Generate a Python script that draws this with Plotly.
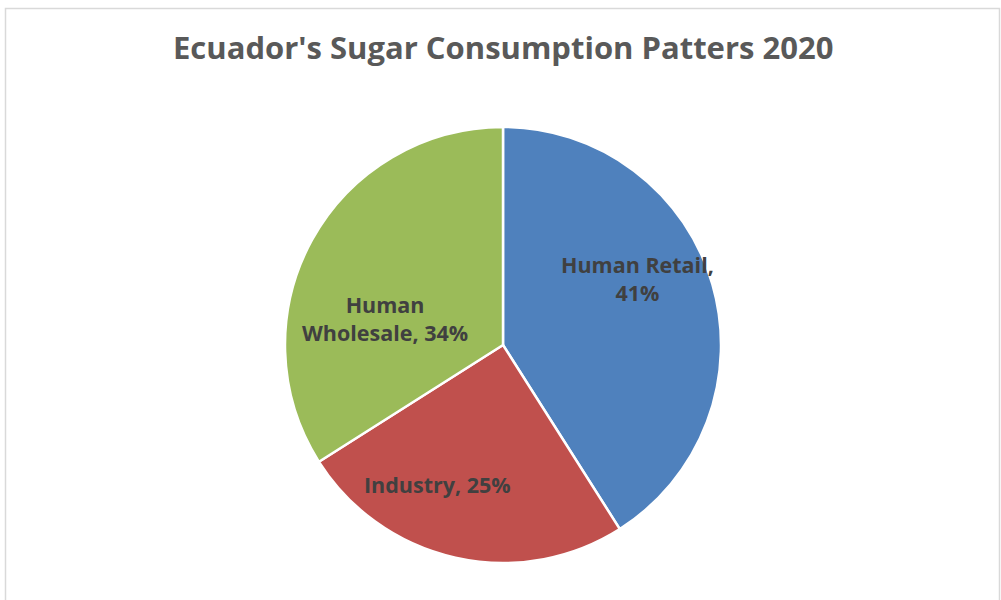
import plotly.graph_objects as go

categories = ["Human Retail", "Industry", "Human Wholesale"]
values = [41, 25, 34]
colors = ["#4F81BD", "#C0504D", "#9BBB59"]
label_texts = ["Human Retail,<br>41%", "Industry, 25%", "Human<br>Wholesale, 34%"]
title_text = "Ecuador's Sugar Consumption Patters 2020"

W, H = 1001, 600
cx, cy, r = 503, 345, 218

fig = go.Figure()
fig.add_trace(go.Pie(
    labels=categories, values=values, sort=False, direction="clockwise", rotation=0,
    marker=dict(colors=colors, line=dict(color="white", width=2.5)),
    textinfo="none", hoverinfo="label+percent", showlegend=False,
    domain=dict(x=[(cx - r) / W, (cx + r) / W], y=[1 - (cy + r) / H, 1 - (cy - r) / H]),
))

label_pos = [(637, 278), (437, 484), (385, 318)]
font_family = "Open Sans, Noto Sans, sans-serif"
for t, (px, py) in zip(label_texts, label_pos):
    fig.add_annotation(x=px / W, y=1 - py / H, xref="paper", yref="paper", text="<b>" + t + "</b>",
                       showarrow=False, font=dict(family=font_family, size=21.5, color="#404040"),
                       xanchor="center", yanchor="middle")

fig.add_annotation(x=503 / W, y=1 - 47 / H, xref="paper", yref="paper", text="<b>" + title_text + "</b>",
                   showarrow=False, font=dict(family=font_family, size=31, color="#595959"),
                   xanchor="center", yanchor="middle")

fig.add_shape(type="rect", xref="paper", yref="paper", x0=5.5 / W, x1=999.5 / W, y0=-0.05, y1=1 - 8.5 / H,
              line=dict(color="#D9D9D9", width=1.5), fillcolor="rgba(0,0,0,0)")

fig.update_layout(width=W, height=H, margin=dict(l=0, r=0, t=0, b=0),
                  paper_bgcolor="white", plot_bgcolor="white")
fig.write_html("out.html")
